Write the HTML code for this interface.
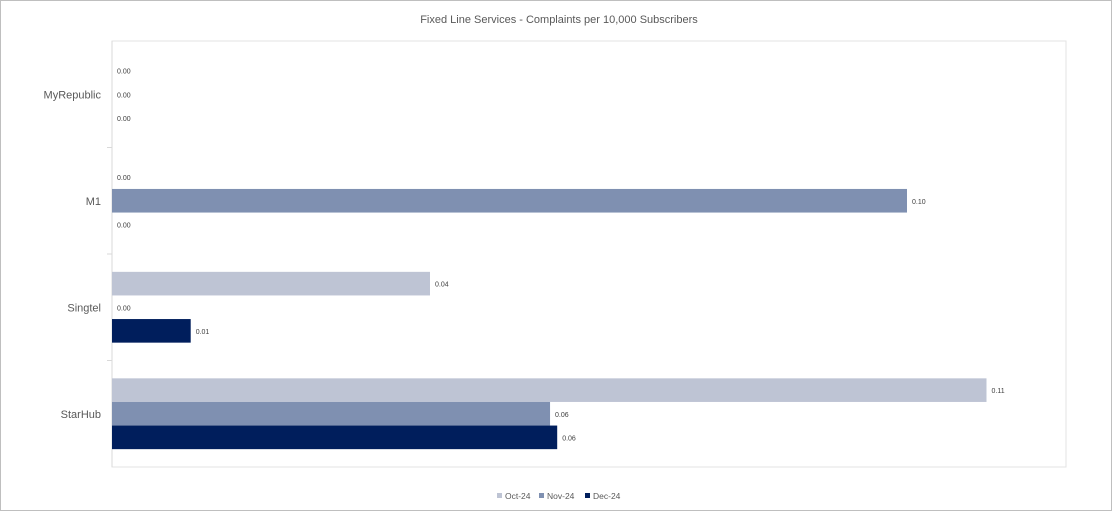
<!DOCTYPE html>
<html><head><meta charset="utf-8"><style>
body{margin:0;background:#fff;}
svg{display:block;font-family:"Liberation Sans",sans-serif;}
</style></head><body>
<svg id="chart" width="1112" height="511">
<rect x="0.5" y="0.5" width="1111" height="510" fill="#fff" stroke="#bfbfbf"/>
<text x="559" y="23" text-anchor="middle" font-size="11" fill="#595959">Fixed Line Services - Complaints per 10,000 Subscribers</text>
<rect x="112" y="41" width="954" height="426" fill="none" stroke="#e3e3e3"/>
<g id="bars"></g>
<g id="legend"></g>
</svg>
<script>
const categories=["MyRepublic","M1","Singtel","StarHub"];
const seriesNames=["Oct-24","Nov-24","Dec-24"];
const oct=[0,0,0.040,0.110];
const nov=[0,0.100,0,0.0551];
const dec=[0,0,0.0099,0.056];
const colors=["#bec4d4","#7f90b1","#001e5c"];
const xMax=0.12;
const svgNS="http://www.w3.org/2000/svg";
const plotL=112,plotR=1066,plotT=41,plotB=467;
const x=v=>plotL+(v/xMax)*(plotR-plotL);
const band=(plotB-plotT)/categories.length;
const barH=23.6;
const g=document.getElementById('bars');
function mk(t,a){const e=document.createElementNS(svgNS,t);for(const k in a)e.setAttribute(k,a[k]);return e;}
const axis=mk('line',{x1:plotL,y1:plotT,x2:plotL,y2:plotB,stroke:'#d9d9d9'});


g.appendChild(axis);
const series=[oct,nov,dec];
categories.forEach((c,i)=>{
  const cy=plotT+band*(i+0.5);
  if(i>0){const t=mk('line',{x1:plotL-5,x2:plotL,y1:plotT+band*i,y2:plotT+band*i,stroke:'#d9d9d9'});
  
  
  g.appendChild(t);}
  const lb=mk('text',{x:plotL-11,y:cy+4,'text-anchor':'end','font-size':'11',fill:'#595959'});
  lb.textContent=c;
  
  
  g.appendChild(lb);
  series.forEach((s,j)=>{
    const y0=cy+(j-1.5)*barH;
    const v=s[i];
    const r=mk('rect',{x:plotL,y:y0,width:Math.max(0,x(v)-plotL),height:barH,fill:colors[j]});
    
    
    g.appendChild(r);
    const t=mk('text',{x:x(v)+5,y:y0+barH/2+3,'font-size':'7',fill:'#404040'});
    t.textContent=v.toFixed(2);
    
    
    g.appendChild(t);
  });
});
const lg=document.getElementById('legend');
const lx=[497,539,585];
seriesNames.forEach((n,j)=>{
  const r=mk('rect',{x:lx[j],y:493,width:5,height:5,fill:colors[j]});
  
  
  lg.appendChild(r);
  const t=mk('text',{x:lx[j]+8,y:499,'font-size':'8.5',fill:'#595959'});
  t.textContent=n;
  
  
  lg.appendChild(t);
});
</script>
</body></html>
